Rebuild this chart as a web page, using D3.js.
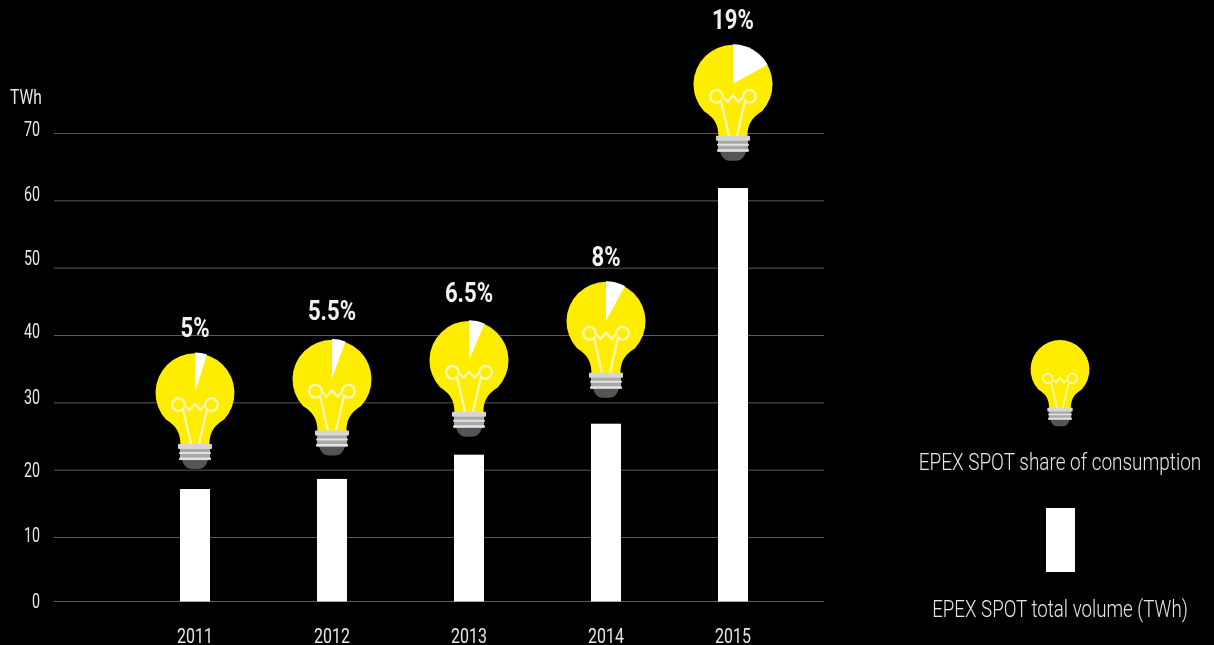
<!DOCTYPE html>
<html>
<head>
<meta charset="utf-8">
<script src="https://cdn.jsdelivr.net/npm/d3@7"></script>
<style>
  html, body { margin: 0; padding: 0; background: #000; overflow: hidden; }
  text { font-family: Roboto, "Liberation Sans", sans-serif; fill: #e6e6e6; filter: grayscale(1); }
</style>
</head>
<body>
<div id="chart"></div>
<script>
// values
var years = [2011, 2012, 2013, 2014, 2015];
var volumes = [17.2, 18.7, 22.3, 26.9, 61.9];
var shareLabels = ["5%", "5.5%", "6.5%", "8%", "19%"];
// slice of the bulb that is white, in percent
var wedgeShares = [5, 5.5, 6.5, 8, 17];
// the level (TWh) where each bulb floats
var bulbLevels = [31.6, 33.6, 36.4, 42.2, 77.4];
var yTicks = [0, 10, 20, 30, 40, 50, 60, 70];

var width = 1214, height = 645;

var svg = d3.select("#chart")
    .append("svg")
    .attr("width", width)
    .attr("height", height)
    .style("display", "block");

// the source axis is a bit uneven, so both scales are piecewise
var x = d3.scaleLinear()
    .domain([2011, 2014, 2015])
    .range([195, 606, 733]);

var y = d3.scaleLinear()
    .domain([0, 10, 70])
    .range([601.5, 537.5, 133.5]);

// squeeze real text to get the condensed look of the original
function condense(sel, factor) {
    sel.each(function () {
        var t = d3.select(this);
        t.attr("lengthAdjust", "spacingAndGlyphs")
            .attr("textLength", this.getComputedTextLength() * factor);
    });
}

// Y axis with gridlines
var yAxis = svg.append("g")
    .attr("transform", "translate(54,0)")
    .call(d3.axisLeft(y).tickValues(yTicks).tickSize(-770).tickPadding(14).tickFormat(d3.format("d")).offset(0));
yAxis.select(".domain").remove();
yAxis.selectAll(".tick line").attr("stroke", "#5a5a5a").attr("stroke-width", 1);

// labels in the source sit a little off their lines
var labelNudge = {0: -1, 10: -2.5, 20: 0, 30: -6, 40: -4.5, 50: -10, 60: -6.5, 70: -4.5};
yAxis.selectAll(".tick text")
    .attr("fill", null)
    .style("font-size", "21px")
    .style("font-weight", 400)
    .attr("dy", function (d) { return labelNudge[d] + 7; })
    .call(condense, 0.68);

svg.append("text")
    .attr("x", 10)
    .attr("y", 104)
    .style("font-size", "21px")
    .style("font-weight", 400)
    .text("TWh")
    .call(condense, 0.74);

// X axis
var xAxis = svg.append("g")
    .attr("transform", "translate(0,601)")
    .call(d3.axisBottom(x).tickValues(years).tickSize(0).tickPadding(42).tickFormat(d3.format("d")).offset(0));
xAxis.select(".domain").remove();
xAxis.selectAll("text")
    .attr("fill", null)
    .attr("dy", 0)
    .style("font-size", "21px")
    .style("font-weight", 400)
    .call(condense, 0.76);

// Bars
svg.append("g")
    .selectAll("rect")
    .data(years)
    .enter()
    .append("rect")
    .attr("x", function (d) { return x(d) - 15; })
    .attr("width", 30)
    .attr("y", function (d, i) { return y(volumes[i]); })
    .attr("height", function (d, i) { return y(0) - y(volumes[i]); })
    .attr("fill", "#fff");

// one bulb, drawn around the centre of the glass
var R = 39.5;
function drawBulb(g) {
    g.append("path")
        .attr("d", "M-14.5,53 C-14.5,38 -21,33 -29,27.5 A" + R + "," + R + " 0 1 1 29,27.5 C21,33 14.5,38 14.5,53 Z")
        .attr("fill", "#FFED00");

    g.append("path")
        .attr("d", "M-4,52 L-12,17 A6.3,6.3 0 1 1 -10.3,13.5 L-5.5,18 L0,12 L5.5,18 L10.3,13.5 "
            + "A6.3,6.3 0 1 1 12,17 L4,52")
        .attr("fill", "none")
        .attr("stroke", "#FFF6B0")
        .attr("stroke-width", 2.4);

    g.append("path")
        .attr("d", "M-13,68 L13,68 C11,74 8,77 3,77 L-3,77 C-8,77 -11,74 -13,68 Z")
        .attr("fill", "#555");
    g.append("rect").attr("x", -15).attr("y", 56).attr("width", 30).attr("height", 12).attr("fill", "#a8a8a8");
    g.append("rect").attr("x", -17).attr("y", 52).attr("width", 34).attr("height", 5).attr("rx", 1).attr("fill", "#d6d6d6");
    g.append("rect").attr("x", -16).attr("y", 60).attr("width", 32).attr("height", 2).attr("rx", 1).attr("fill", "#e2e2e2");
    g.append("rect").attr("x", -16).attr("y", 65.5).attr("width", 32).attr("height", 2.5).attr("rx", 1).attr("fill", "#e2e2e2");
}

var wedge = d3.arc().innerRadius(0).outerRadius(R).startAngle(0);

var bulbs = svg.append("g")
    .selectAll("g")
    .data(years)
    .enter()
    .append("g")
    .attr("transform", function (d, i) { return "translate(" + x(d) + "," + y(bulbLevels[i]) + ")"; });
bulbs.each(function () { drawBulb(d3.select(this)); });
bulbs.append("path")
    .attr("d", function (d, i) { return wedge({endAngle: wedgeShares[i] / 100 * 2 * Math.PI}); })
    .attr("fill", "#fff");

// the two middle labels float a little higher in the source
var shareNudge = [0, -3.5, -2.5, 0, 0];
bulbs.append("text")
    .attr("x", 0)
    .attr("y", function (d, i) { return -55 + shareNudge[i]; })
    .attr("text-anchor", "middle")
    .style("font-size", "27px")
    .style("font-weight", 700)
    .style("fill", "#f2f2f2")
    .text(function (d, i) { return shareLabels[i]; })
    .call(condense, 0.82);

// Legend
var legendBulb = svg.append("g")
    .attr("transform", "translate(1060,369) scale(0.745)");
drawBulb(legendBulb);

svg.append("text")
    .attr("x", 1060)
    .attr("y", 470)
    .attr("text-anchor", "middle")
    .style("font-size", "24px")
    .style("font-weight", 300)
    .text("EPEX SPOT share of consumption")
    .call(condense, 0.79);

svg.append("rect")
    .attr("x", 1046)
    .attr("y", 508)
    .attr("width", 29)
    .attr("height", 64)
    .attr("fill", "#fff");

svg.append("text")
    .attr("x", 1060)
    .attr("y", 617)
    .attr("text-anchor", "middle")
    .style("font-size", "24px")
    .style("font-weight", 300)
    .text("EPEX SPOT total volume (TWh)")
    .call(condense, 0.78);
</script>
</body>
</html>
